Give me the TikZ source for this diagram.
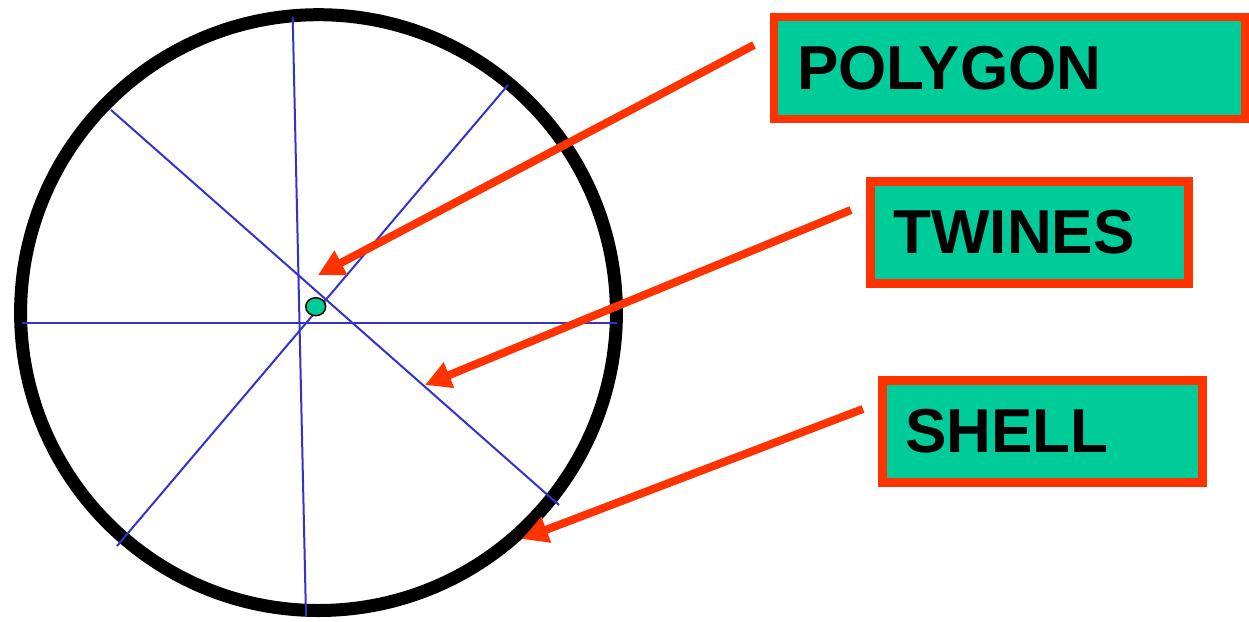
\documentclass[tikz,border=0pt]{standalone}
\usepackage{fontspec}
\setmainfont{Liberation Sans}
\usetikzlibrary{arrows.meta}
\definecolor{shellred}{RGB}{255,51,0}
\definecolor{boxgreen}{RGB}{0,204,153}
\definecolor{twineblue}{RGB}{51,51,204}

\begin{document}
\begin{tikzpicture}[x=1pt,y=-1pt,
  labelbox/.style={draw=shellred, line width=8.5pt, fill=boxgreen, minimum height=102pt,
    inner xsep=23pt, align=left, font=\fontsize{62}{62}\selectfont\bfseries},
  pointer/.style={shellred, line width=8pt, -{Triangle[length=26pt,width=26pt]}}]
\useasboundingbox (0,0) rectangle (1249,621);
\draw[line width=13pt] (318.5,312.6) circle (297.9pt);
\foreach \a/\b/\c/\d in {22/323/617/323,292.7/16.6/306/616.6,111/110/559/505,508/85/117/546}
  \draw[twineblue, line width=2pt] (\a,\b) -- (\c,\d);
\draw[fill=boxgreen, line width=1.5pt] (315.7,306.7) ellipse (10pt and 9pt);
\node[labelbox, text width=425pt] (polygon) at (1009.5,68) {POLYGON};
\node[labelbox, text width=272pt] (twines) at (1029.5,232.5) {TWINES};
\node[labelbox, text width=274pt] (shell) at (1042.5,431.5) {SHELL};
\foreach \n/\a/\b/\c/\d in {polygon/754/45/318/275,twines/851/210/425/385,shell/863/409/522/539}
  {\coordinate (\n-tail) at (\a,\b); \coordinate (\n-tip) at (\c,\d);
   \draw[pointer] (\n-tail) -- (\n-tip);}
\end{tikzpicture}
\end{document}
